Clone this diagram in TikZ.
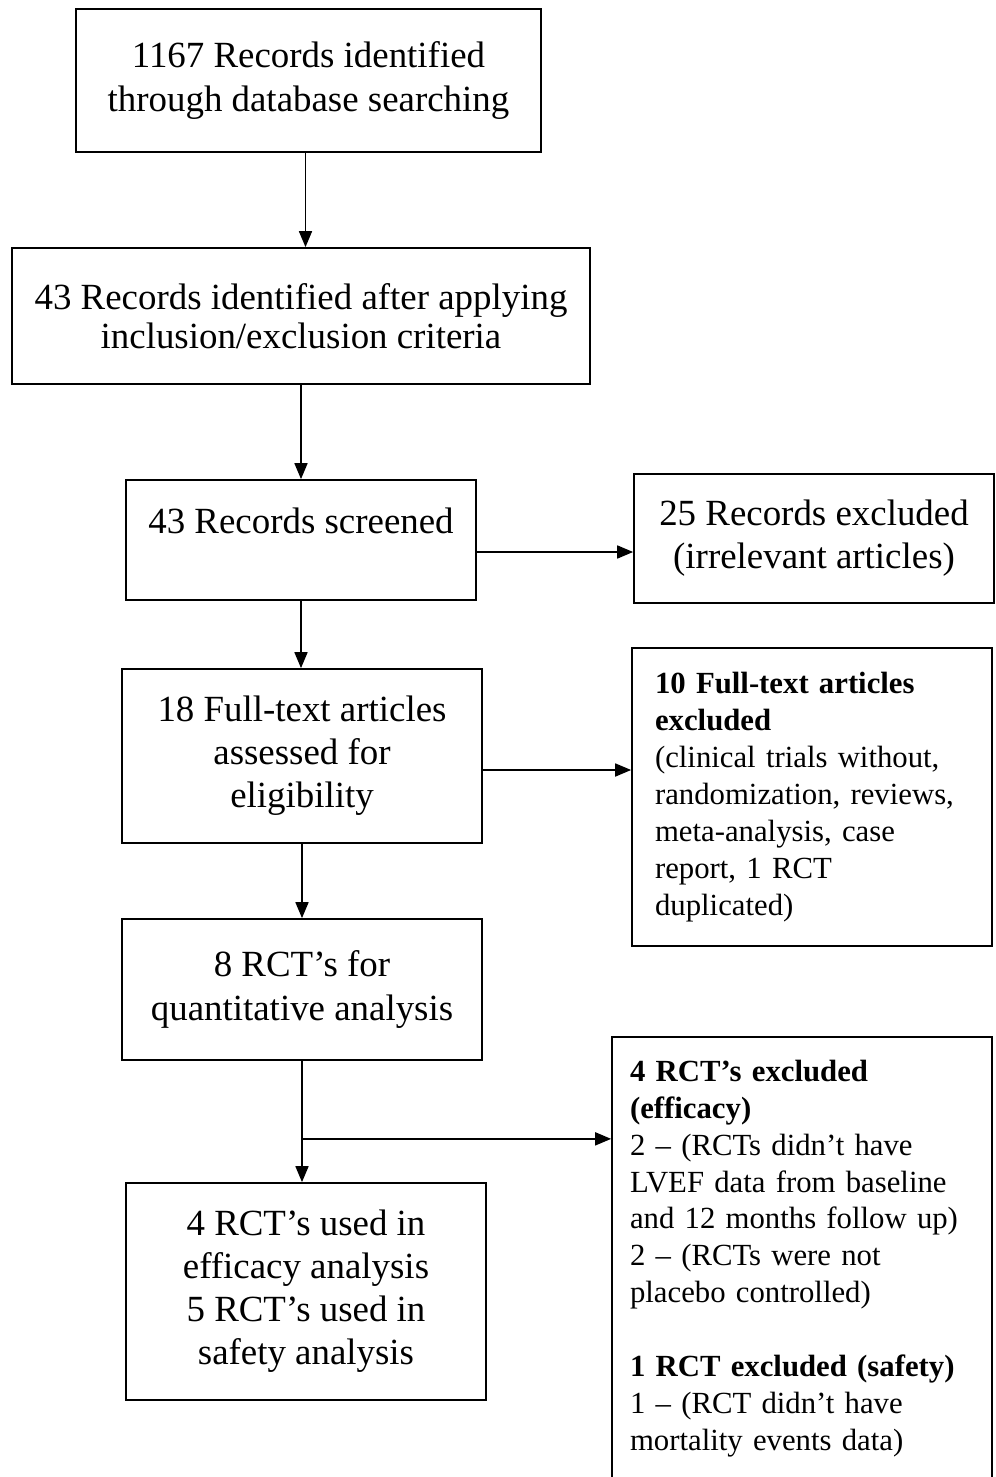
\documentclass[tikz,border=0pt]{standalone}
\usepackage{fontspec}
\setmainfont{Liberation Serif}
\usetikzlibrary{arrows.meta}

\begin{document}
\begin{tikzpicture}[x=0.02cm, y=-0.02cm,
    box/.style={draw, line width=1pt, align=center, inner sep=0pt,
        font=\fontsize{21}{24.5}\selectfont},
    sidebox/.style={draw, line width=1pt, align=left, inner ysep=0pt,
        font=\fontsize{17.5}{21}\selectfont},
    arr/.style={-{Triangle[length=3.2mm, width=2.6mm]}, line width=1pt}]
    % Page
    \useasboundingbox (0,0) rectangle (996,1477);
    \clip (0,0) rectangle (996,1477);
    \fill[white] (0,0) rectangle (996,1477);

    % Main column
    \node[box, minimum width=9.3cm, minimum height=2.86cm] (identified) at (308.5, 80.5)
        {1167 Records identified\\through database searching};
    \node[box, minimum width=11.56cm, minimum height=2.72cm] (criteria) at (301, 316)
        {43 Records identified after applying\\[-2pt]inclusion/exclusion criteria};
    \node[box, minimum width=7cm, minimum height=2.4cm] (screened) at (301, 540)
        {43 Records screened\\[-10pt]\strut};
    \node[box, minimum width=7.2cm, minimum height=3.48cm] (fulltext) at (302, 756)
        {18 Full-text articles\\assessed for\\eligibility};
    \node[box, minimum width=7.2cm, minimum height=2.82cm] (quantitative) at (302, 989.5)
        {8 RCT's for\\quantitative analysis};
    \node[box, minimum width=7.2cm, minimum height=4.34cm] (analysis) at (306, 1291.5)
        {4 RCT's used in\\efficacy analysis\\5 RCT's used in\\safety analysis};

    % Exclusions
    \node[box, minimum width=7.2cm, minimum height=2.58cm] (irrelevant) at (814, 538.5)
        {25 Records excluded\\(irrelevant articles)};
    \node[sidebox, inner xsep=0.46cm, text width=6.28cm, minimum height=5.96cm] (excludedft) at (812, 797)
        {\textbf{10 Full-text articles}\\\textbf{excluded}\\(clinical trials without,\\randomization, reviews,\\meta-analysis, case\\report, 1 RCT\\duplicated)};
    \node[sidebox, inner xsep=0.36cm, text width=6.88cm, minimum height=8.86cm] (excludedrct) at (802, 1258.5)
        {\textbf{4 RCT's excluded}\\\textbf{(efficacy)}\\2 -- (RCTs didn't have\\LVEF data from baseline\\and 12 months follow up)\\2 -- (RCTs were not\\placebo controlled)\\[21pt]\textbf{1 RCT excluded (safety)}\\1 -- (RCT didn't have\\mortality events data)};

    % Arrows
    \draw[arr] ([xshift=-0.06cm]identified.south) -- ([xshift=-0.06cm]identified.south |- criteria.north);
    \draw[arr] (criteria) -- (screened);
    \draw[arr] ([yshift=-0.24cm]screened.east) -- ([yshift=-0.24cm]screened.east -| irrelevant.west);
    \draw[arr] (screened.south) -- (screened.south |- fulltext.north);
    \draw[arr] ([yshift=-0.28cm]fulltext.east) -- ([yshift=-0.28cm]fulltext.east -| excludedft.west);
    \draw[arr] (fulltext.south) -- (fulltext.south |- quantitative.north);
    \path (quantitative.south) ++(0,78) coordinate (split);
    \draw[line width=1pt] (quantitative.south) -- (split);
    \draw[arr] (split) -- (split |- analysis.north);
    \draw[arr] (split) -- (split -| excludedrct.west);
\end{tikzpicture}
\end{document}
